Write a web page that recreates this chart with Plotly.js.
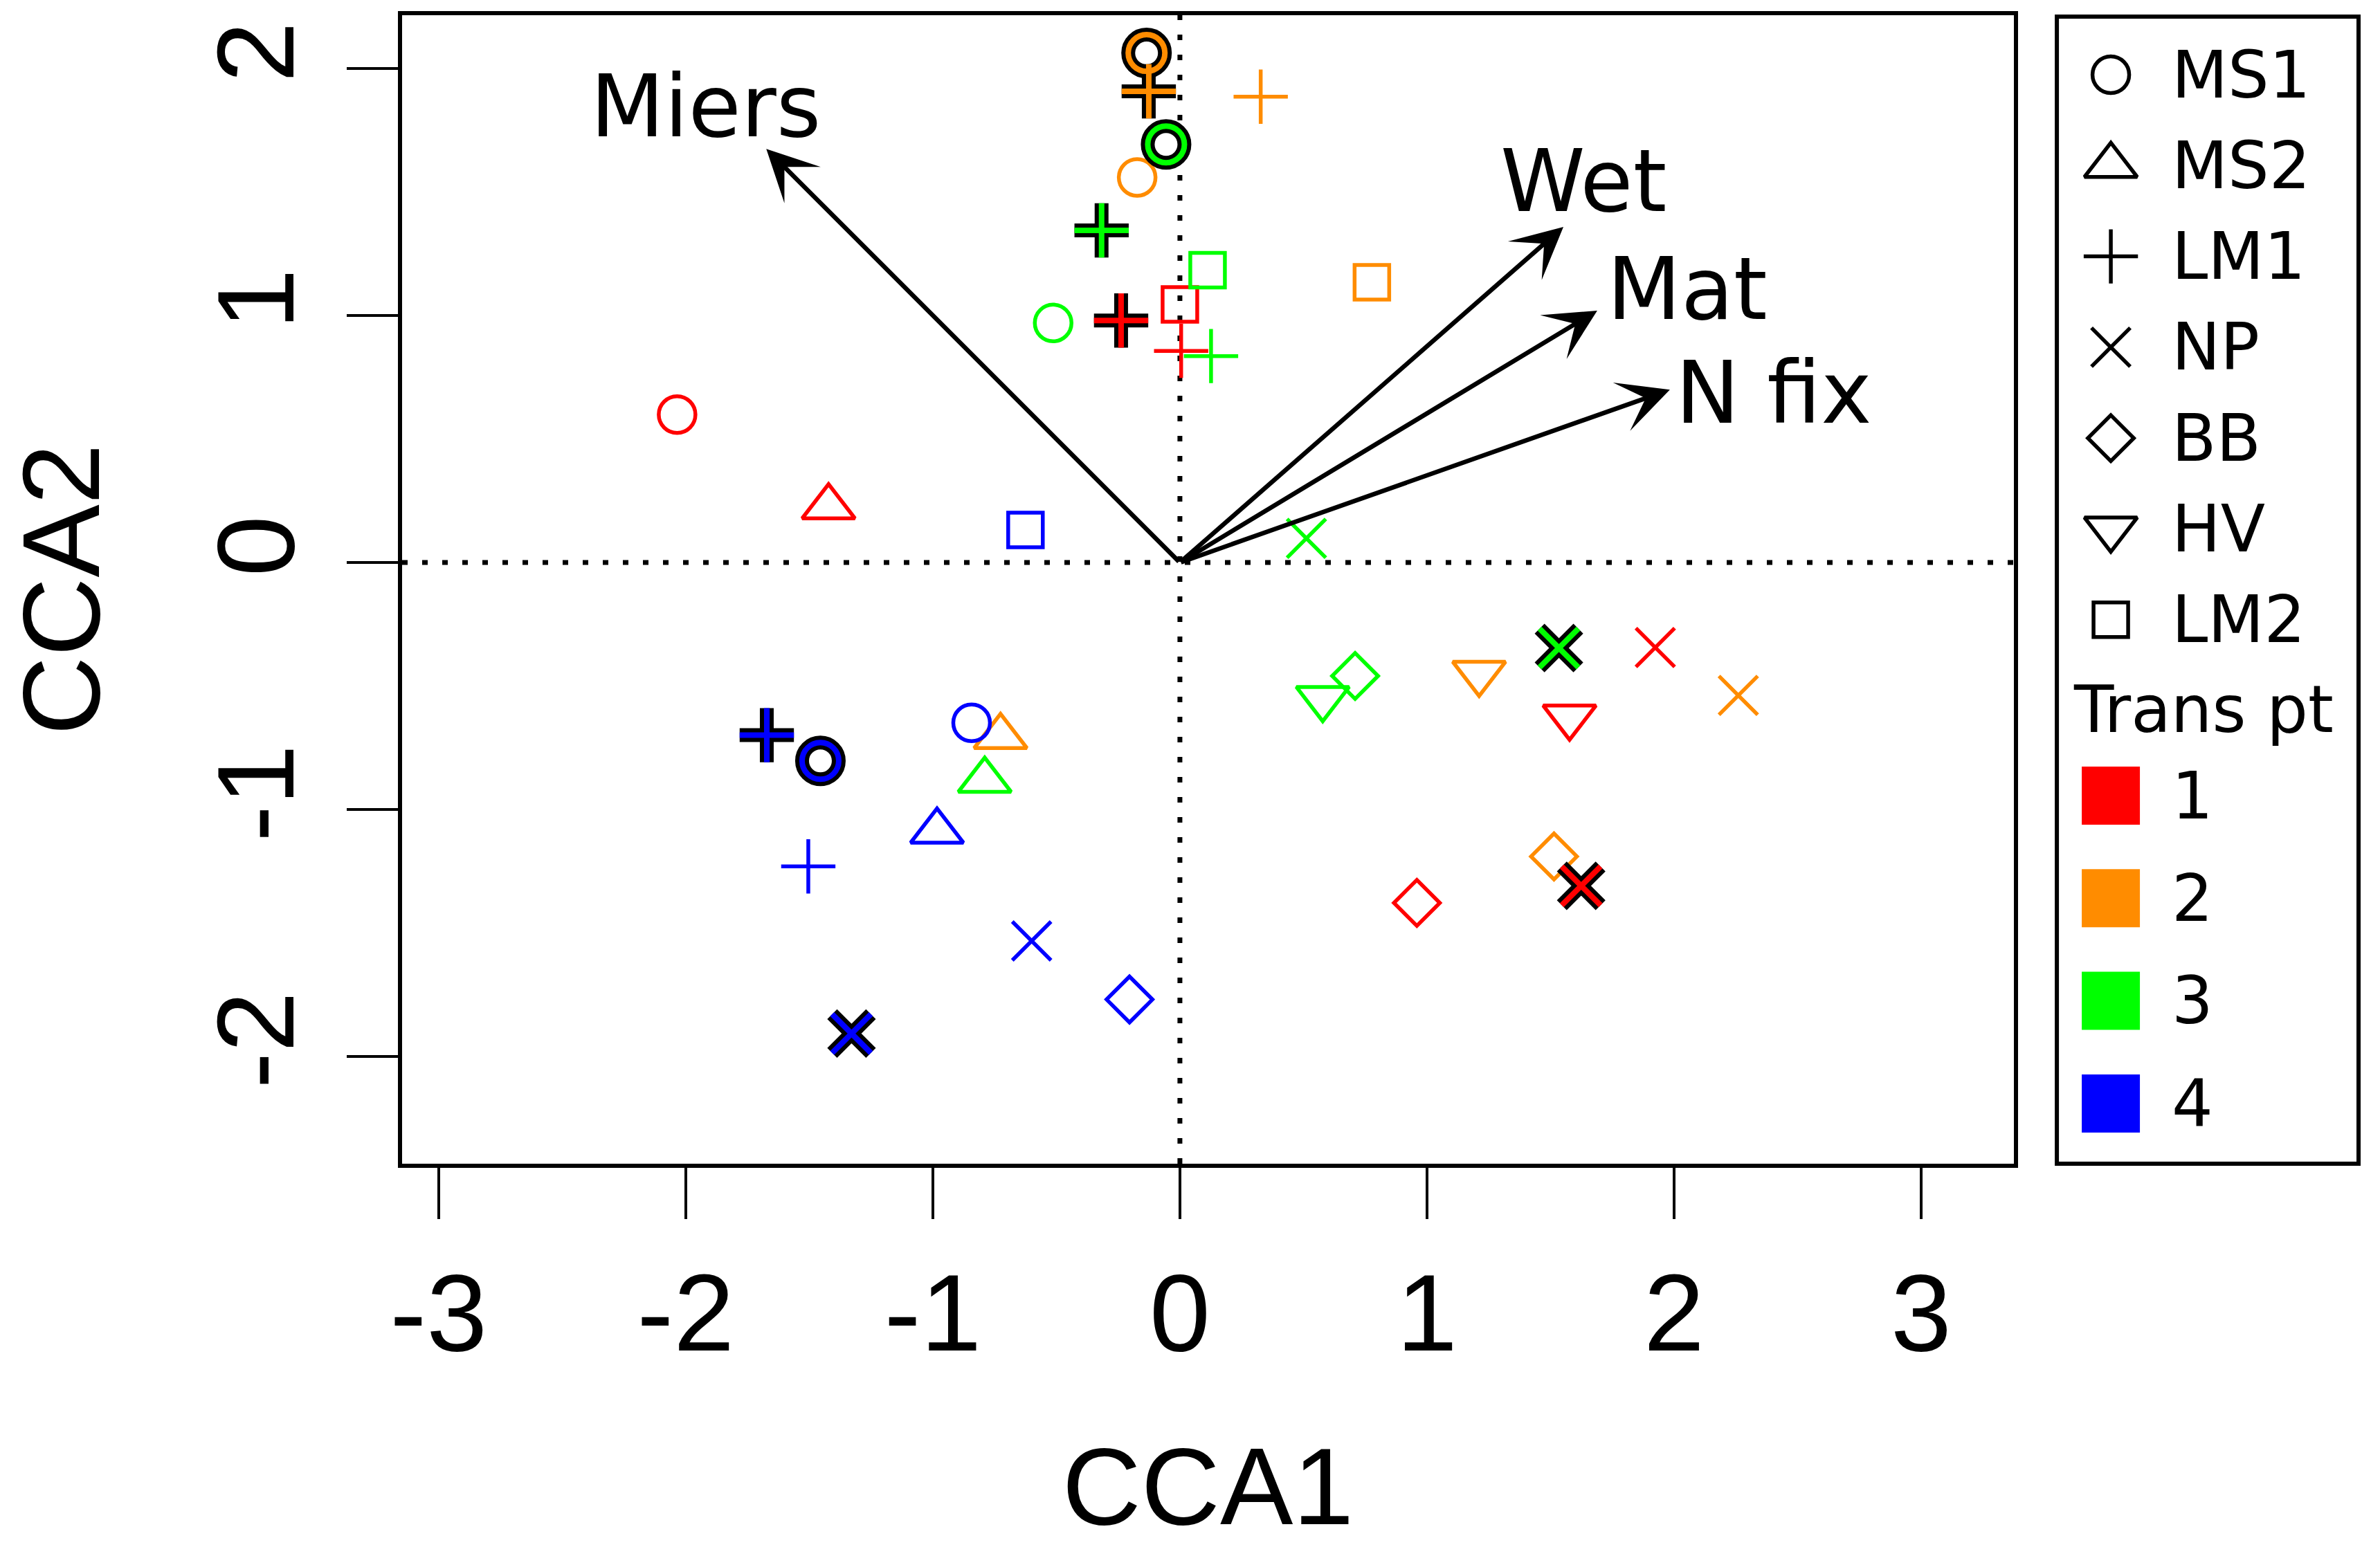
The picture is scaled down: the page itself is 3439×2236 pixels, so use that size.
<!DOCTYPE html>
<html>
<head>
<meta charset="utf-8">
<script src="https://cdn.plot.ly/plotly-3.0.1.min.js"></script>
<style>
html,body{margin:0;padding:0;background:#ffffff;}
#chart{width:3439px;height:2236px;}
</style>
</head>
<body>
<div id="chart"></div>
<script>
// ---------------- DATA ----------------
const siteNames = ['MS1','MS2','LM1','NP','BB','HV','LM2'];
const transectNames = ['1','2','3','4'];
const transectColors = ['#FF0000','#FF8C00','#00FF00','#0000FF'];

// one entry per sample point
const site = [
  'MS1','MS2','LM1','LM1','NP','NP','BB','HV','LM2',
  'MS1','LM1','LM1','MS1','LM2','MS2','HV','NP','BB',
  'MS1','LM1','MS1','LM2','LM1','NP','HV','BB','NP','MS2',
  'LM1','MS1','MS1','MS2','LM1','NP','BB','NP','LM2'
];
const transect = [
  1,1,1,1,1,1,1,1,1,
  2,2,2,2,2,2,2,2,2,
  3,3,3,3,3,3,3,3,3,3,
  4,4,4,4,4,4,4,4,4
];
const cca1 = [
  -2.035,-1.422,-0.238,0.005,1.924,1.624,0.959,1.577,0.000,
  -0.135,-0.126,0.327,-0.173,0.777,-0.726,1.211,2.260,1.514,
  -0.056,-0.317,-0.513,0.112,0.126,0.512,0.578,0.709,1.534,-0.790,
  -1.672,-1.455,-0.843,-0.983,-1.504,-0.600,-0.204,-1.329,-0.625
];
const cca2 = [
  0.599,0.225,0.980,0.857,-0.344,-1.309,-1.378,-0.625,1.045,
  2.063,1.908,1.886,1.559,1.135,-0.705,-0.448,-0.538,-1.190,
  1.693,1.345,0.970,1.184,0.836,0.098,-0.550,-0.459,-0.346,-0.882,
  -0.699,-0.803,-0.649,-1.088,-1.230,-1.532,-1.769,-1.907,0.132
];
// 1 = drawn with heavy black outline
const bold = [
  0,0,1,0,0,1,0,0,0,
  1,1,0,0,0,0,0,0,0,
  1,1,0,0,0,0,0,0,1,0,
  1,1,0,0,0,0,0,1,0
];

// environmental biplot vectors
const envVars = ['Miers','Wet','Mat','N fix'];
const envCCA1 = [-1.674, 1.552, 1.689, 1.983];
const envCCA2 = [ 1.675, 1.359, 1.020, 0.700];
const envLabelCCA1 = [-1.919, 1.633, 2.053, 2.403];
const envLabelCCA2 = [ 1.846, 1.543, 1.106, 0.686];

const xTickVals = [-3,-2,-1,0,1,2,3];
const xTickText = ['-3','-2','-1','0','1','2','3'];
const yTickVals = [-2,-1,0,1,2];
const yTickText = ['-2','-1','0','1','2'];

// ---------------- STYLE ----------------
const symbolOf = {MS1:'circle-open', MS2:'triangle-up-open', LM1:'cross-thin-open',
                  NP:'x-thin-open', BB:'diamond-open', HV:'triangle-down-open', LM2:'square-open'};
const sizeOf = {MS1:53, MS2:66, LM1:56, NP:56, BB:51, HV:66, LM2:50};
const axisFont = {family:'Liberation Sans, Arial, sans-serif', size:158, color:'#000'};
const textFont = {family:'DejaVu Sans, Verdana, sans-serif', size:124, color:'#000'};
const legFont = {family:'DejaVu Sans, Verdana, sans-serif', size:94, color:'#000'};

function idxWhere(flag){ return site.map((s,i)=>i).filter(i=>bold[i]===flag); }
function ptTrace(ids, colorFn, lw){
  return {
    type:'scatter', mode:'markers', xaxis:'x', yaxis:'y', hoverinfo:'skip', showlegend:false,
    x: ids.map(i=>cca1[i]), y: ids.map(i=>cca2[i]),
    marker:{
      symbol: ids.map(i=>symbolOf[site[i]]),
      size: ids.map(i=>sizeOf[site[i]]),
      color: ids.map(colorFn),
      opacity: 1,
      line:{width:lw}
    }
  };
}
const plainIds = idxWhere(0);
const boldIds = idxWhere(1);
const traces = [
  ptTrace(plainIds, i=>transectColors[transect[i]-1], 5.5),
  ptTrace(boldIds, i=>'#000000', 20),
  ptTrace(boldIds, i=>transectColors[transect[i]-1], 8)
];

// ---------------- LEGEND (drawn in its own small axes, pixel units) ----------------
const LEG = {symX:78, textX:164, rowTop:86, rowStep:131.3, titleX:22, titleY:1003, swTop:1128, swStep:148.3};
traces.push({
  type:'scatter', mode:'markers', xaxis:'x2', yaxis:'y2', hoverinfo:'skip', showlegend:false,
  x: siteNames.map(()=>LEG.symX),
  y: siteNames.map((s,k)=>LEG.rowTop + k*LEG.rowStep),
  marker:{symbol: siteNames.map(s=>symbolOf[s]), size: siteNames.map(s=>sizeOf[s]),
          color:'#000000', opacity:1, line:{width:5.5}}
});
traces.push({
  type:'scatter', mode:'markers', xaxis:'x2', yaxis:'y2', hoverinfo:'skip', showlegend:false,
  x: transectNames.map(()=>LEG.symX),
  y: transectNames.map((t,k)=>LEG.swTop + k*LEG.swStep),
  marker:{symbol:'square', size:84, color:transectColors, opacity:1, line:{width:0}}
});

const annotations = [];
envVars.forEach((v,i)=>{
  annotations.push({xref:'x', yref:'y', axref:'x', ayref:'y',
    x: envCCA1[i], y: envCCA2[i], ax: 0, ay: 0, text:'', showarrow:true,
    arrowhead:3, arrowsize:1.9, arrowwidth:6.5, arrowcolor:'#000000', standoff:0});
  annotations.push({xref:'x', yref:'y', x: envLabelCCA1[i], y: envLabelCCA2[i],
    text: v, showarrow:false, font:textFont, xanchor:'center', yanchor:'middle'});
});
siteNames.forEach((s,k)=>{
  annotations.push({xref:'x2', yref:'y2', x:LEG.textX, y:LEG.rowTop + k*LEG.rowStep,
    text:s, showarrow:false, font:legFont, xanchor:'left', yanchor:'middle'});
});
annotations.push({xref:'x2', yref:'y2', x:LEG.titleX, y:LEG.titleY, text:'Trans pt',
  showarrow:false, font:legFont, xanchor:'left', yanchor:'middle'});
transectNames.forEach((t,k)=>{
  annotations.push({xref:'x2', yref:'y2', x:LEG.textX, y:LEG.swTop + k*LEG.swStep,
    text:t, showarrow:false, font:legFont, xanchor:'left', yanchor:'middle'});
});

const shapes = [
  {type:'line', xref:'x', yref:'y domain', x0:0, x1:0, y0:0, y1:1, layer:'below',
   line:{color:'#000', width:7, dash:'8px,21px'}},
  {type:'line', xref:'x domain', yref:'y', x0:0, x1:1, y0:0, y1:0, layer:'below',
   line:{color:'#000', width:7, dash:'8px,21px'}},
  {type:'rect', xref:'paper', yref:'paper', x0:0.8458, x1:1, y0:0, y1:0.9988,
   line:{color:'#000', width:6}, fillcolor:'rgba(0,0,0,0)'}
];

const layout = {
  width:3439, height:2236,
  margin:{l:581, r:31, t:22, b:554, pad:0},
  paper_bgcolor:'#ffffff', plot_bgcolor:'#ffffff',
  showlegend:false,
  xaxis:{domain:[0,0.8238], range:[-3.148,3.375], anchor:'y',
    tickmode:'array', tickvals:xTickVals, ticktext:xTickText,
    ticks:'outside', ticklen:74, tickwidth:4.5, tickcolor:'#000',
    showline:true, mirror:true, linewidth:6, linecolor:'#000',
    showgrid:false, zeroline:false, tickfont:axisFont, ticklabelstandoff:0,
    title:{text:'CCA1', font:axisFont, standoff:236}},
  yaxis:{domain:[0,1], range:[-2.434,2.216], anchor:'x',
    tickmode:'array', tickvals:yTickVals, ticktext:yTickText, tickangle:-90,
    ticks:'outside', ticklen:74, tickwidth:4.5, tickcolor:'#000',
    showline:true, mirror:true, linewidth:6, linecolor:'#000',
    showgrid:false, zeroline:false, tickfont:axisFont, ticklabelstandoff:14,
    title:{text:'CCA2', font:axisFont, standoff:222}},
  xaxis2:{domain:[0.8458,1], range:[0,436], anchor:'y2', visible:false, fixedrange:true},
  yaxis2:{domain:[0,1], range:[1660,0], anchor:'x2', visible:false, fixedrange:true},
  shapes: shapes,
  annotations: annotations
};

Plotly.newPlot('chart', traces, layout, {staticPlot:true, displayModeBar:false});
</script>
</body>
</html>
